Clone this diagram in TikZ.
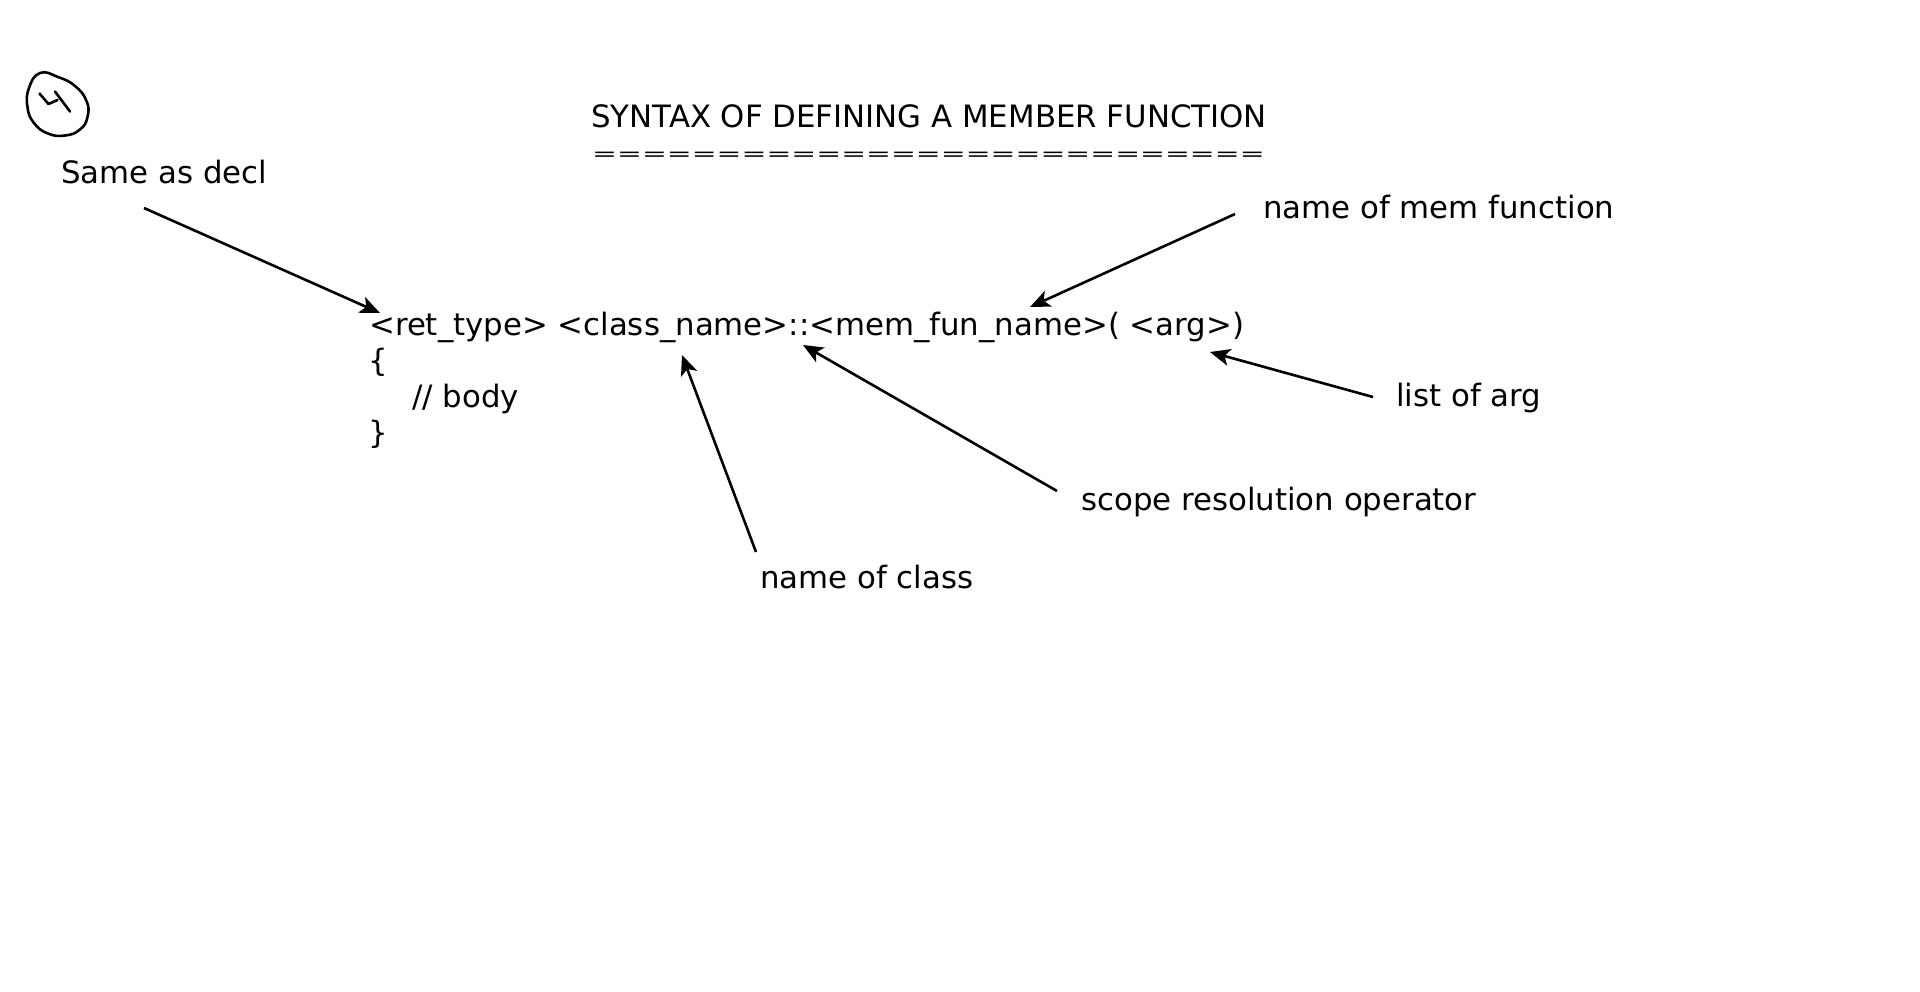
\documentclass[tikz,border=0pt]{standalone}
\usepackage{fontspec}
\usepackage{graphicx}
\setmainfont{DejaVu Sans}
\usetikzlibrary{arrows.meta}
\tikzset{
  lbl/.style={inner sep=0pt, anchor=base west, font=\fontsize{30.8}{36}\selectfont},
  arr/.style={line width=2.6pt, -{Stealth[length=20pt,width=17pt,inset=5pt]}},
  ink/.style={line width=2.6pt, line cap=round, line join=round}
}
\begin{document}
\begin{tikzpicture}[x=1pt,y=-1pt]
\fill[white] (0,0) rectangle (1920,991);
\useasboundingbox (0,0) rectangle (1920,991);

% hand-drawn circled 4
\draw[ink] plot[smooth cycle, tension=0.8] coordinates {(40,73) (58,77) (75,86) (86.5,101) (87.5,117) (80,129.5) (65,135.5) (48,133.5) (34,123) (27.5,107) (29,88)};
\draw[ink] (39.5,93.5) -- (48.5,104) -- (57.5,100);
\draw[ink] (55,91.5) -- (70,111.5);

% texts
\node[lbl] (sameas) at (61,183) {Same as decl};
\node[lbl] (title) at (591,127) {SYNTAX OF DEFINING A MEMBER FUNCTION};
\node[lbl] (eqline) at (592,160) {\scalebox{0.965}[0.6]{===========================}};
\node[lbl] (code1) at (369,335) {<ret\_type> <class\_name>::<mem\_fun\_name>( <arg>)};
\node[lbl] (code2) at (368,371) {\{};
\node[lbl] (code3) at (412,407) {// body};
\node[lbl] (code4) at (368,443) {\}};
\node[lbl] (memlbl) at (1263,218) {name of mem function};
\node[lbl] (arglbl) at (1396,406) {list of arg};
\node[lbl] (scopelbl) at (1081,510) {scope resolution operator};
\node[lbl] (classlbl) at (760,588) {name of class};

% arrow end points
\coordinate (s1) at (144,208);  \coordinate (t1) at (380,313);
\coordinate (s2) at (1235,214); \coordinate (t2) at (1030,307);
\coordinate (s3) at (1373,397); \coordinate (t3) at (1210,352);
\coordinate (s4) at (1057,491); \coordinate (t4) at (803,345);
\coordinate (s5) at (756,552);  \coordinate (t5) at (682,355);

\draw[arr] (s1) -- (t1);
\draw[arr] (s2) -- (t2);
\draw[arr] (s3) -- (t3);
\draw[arr] (s4) -- (t4);
\draw[arr] (s5) -- (t5);
\end{tikzpicture}
\end{document}
